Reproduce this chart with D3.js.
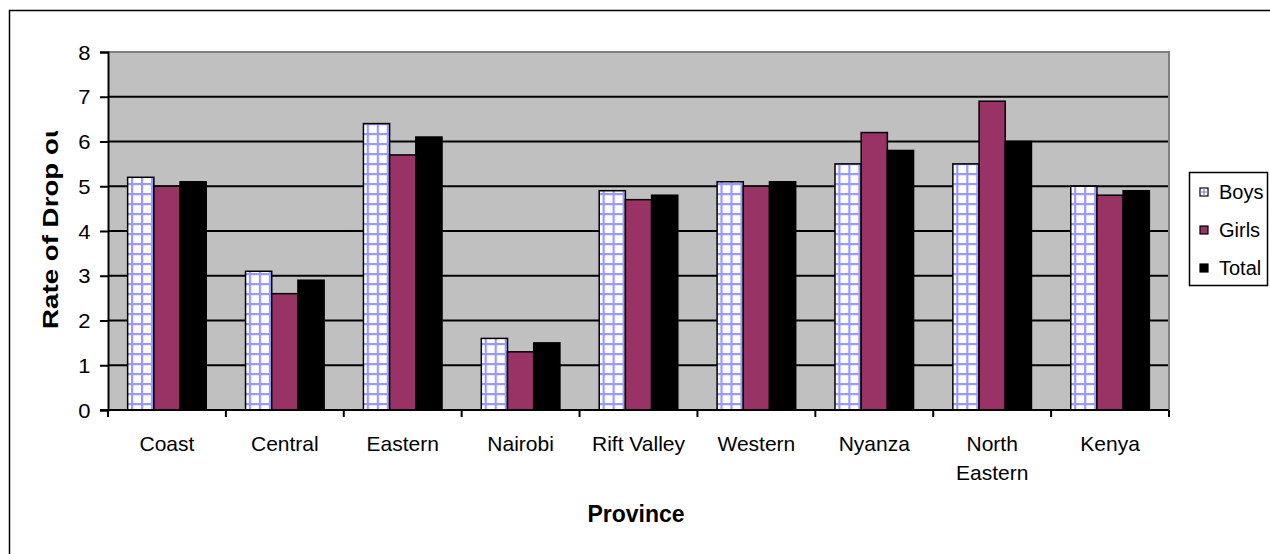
<!DOCTYPE html>
<html>
<head>
<meta charset="utf-8">
<script src="https://cdn.jsdelivr.net/npm/d3@7"></script>
<style>
  body { margin: 0; background: #fff; }
  svg { display: block; }
  text { font-family: "Liberation Sans", Arial, sans-serif; fill: #000; }
</style>
</head>
<body>
<div id="chart"></div>
<script>
const provinces = ["Coast", "Central", "Eastern", "Nairobi", "Rift Valley", "Western", "Nyanza", "North Eastern", "Kenya"];
const seriesNames = ["Boys", "Girls", "Total"];
const boys  = [5.2, 3.1, 6.4, 1.6, 4.9, 5.1, 5.5, 5.5, 5.0];
const girls = [5.0, 2.6, 5.7, 1.3, 4.7, 5.0, 6.2, 6.9, 4.8];
const total = [5.1, 2.9, 6.1, 1.5, 4.8, 5.1, 5.8, 6.0, 4.9];
const yTicks = [0, 1, 2, 3, 4, 5, 6, 7, 8];
const xTitle = "Province";
const yTitle = "Rate of Drop out";

const W = 1270, H = 554;
const plot = { left: 108, top: 52, right: 1169, bottom: 410 };

const svg = d3.select("#chart").append("svg")
    .attr("width", W)
    .attr("height", H);

const defs = svg.append("defs");

// boys fill: white with a light blue grid
const pat = defs.append("pattern")
    .attr("id", "boysGrid")
    .attr("patternUnits", "userSpaceOnUse")
    .attr("width", 10)
    .attr("height", 10);
pat.append("rect").attr("width", 10).attr("height", 10).attr("fill", "#fff");
pat.append("rect").attr("x", 3).attr("y", 0).attr("width", 2.2).attr("height", 10).attr("fill", "#9999ff");
pat.append("rect").attr("x", 0).attr("y", 3).attr("width", 10).attr("height", 2.2).attr("fill", "#9999ff");

defs.append("clipPath").attr("id", "yTitleClip")
    .append("rect").attr("x", 0).attr("y", 131).attr("width", 100).attr("height", 260);

const colors = { Boys: "url(#boysGrid)", Girls: "#993366", Total: "#000" };
const values = { Boys: boys, Girls: girls, Total: total };

// outer chart border (runs off the right/bottom edges)
svg.append("rect")
    .attr("x", 9.5).attr("y", 10.5)
    .attr("width", W + 20).attr("height", H + 20)
    .attr("fill", "#fff")
    .attr("stroke", "#000")
    .attr("stroke-width", 1.5);

const x0 = d3.scaleBand()
    .domain(provinces)
    .range([plot.left, plot.right])
    .padding(0);

const x1 = d3.scaleBand()
    .domain(seriesNames)
    .range([0, x0.bandwidth()])
    .paddingInner(0)
    .paddingOuter(0.75);

const y = d3.scaleLinear()
    .domain([0, 8])
    .range([plot.bottom, plot.top]);

// plot background
svg.append("rect")
    .attr("x", plot.left).attr("y", plot.top)
    .attr("width", plot.right - plot.left)
    .attr("height", plot.bottom - plot.top)
    .attr("fill", "#c0c0c0");

// gridlines
svg.append("g")
    .selectAll("line")
    .data(yTicks.filter(d => d > 0 && d < 8))
    .join("line")
    .attr("x1", plot.left).attr("x2", plot.right)
    .attr("y1", d => y(d)).attr("y2", d => y(d))
    .attr("stroke", "#000")
    .attr("stroke-width", 2);

// top and right plot edges in grey
svg.append("path")
    .attr("d", `M${plot.left},${y(8)}H${plot.right}V${plot.bottom}`)
    .attr("fill", "none")
    .attr("stroke", "#808080")
    .attr("stroke-width", 2);

// bars
const groups = svg.append("g")
    .selectAll("g")
    .data(provinces)
    .join("g")
    .attr("transform", d => `translate(${x0(d)},0)`);

groups.selectAll("rect")
    .data((p, i) => seriesNames.map(s => ({ key: s, value: values[s][i] })))
    .join("rect")
    .attr("x", d => x1(d.key))
    .attr("y", d => y(d.value))
    .attr("width", x1.bandwidth())
    .attr("height", d => y(0) - y(d.value))
    .attr("fill", d => colors[d.key])
    .attr("stroke", "#000")
    .attr("stroke-width", 1.5);

// y axis
const yAxis = svg.append("g")
    .attr("transform", `translate(${plot.left},0)`)
    .call(d3.axisLeft(y).tickValues(yTicks).tickSize(8).tickPadding(8).tickFormat(d3.format("d")));
yAxis.select(".domain").attr("stroke", "#000").attr("stroke-width", 2);
yAxis.selectAll(".tick line").attr("stroke", "#000").attr("stroke-width", 2);
yAxis.selectAll(".tick text")
    .style("font-size", "20px")
    .attr("font-family", null)
    .attr("dy", "0.36em")
    .attr("transform", "scale(1.1,1)");

// x axis with ticks at category boundaries
const xAxisG = svg.append("g")
    .attr("transform", `translate(0,${plot.bottom})`);
xAxisG.append("line")
    .attr("x1", plot.left - 8).attr("x2", plot.right)
    .attr("stroke", "#000").attr("stroke-width", 2);
xAxisG.selectAll("line.tk")
    .data(provinces.map(p => x0(p)).concat([plot.right]))
    .join("line")
    .attr("class", "tk")
    .attr("x1", d => d).attr("x2", d => d)
    .attr("y1", 0).attr("y2", 7)
    .attr("stroke", "#000").attr("stroke-width", 2);

const catLines = p => p === "North Eastern" ? ["North", "Eastern"] : [p];
xAxisG.selectAll("text.cat")
    .data(provinces)
    .join("text")
    .attr("class", "cat")
    .attr("text-anchor", "middle")
    .style("font-size", "21px")
    .each(function(p) {
        const t = d3.select(this);
        catLines(p).forEach((ln, i) => {
            t.append("tspan")
                .attr("x", x0(p) + x0.bandwidth() / 2)
                .attr("y", 41 + i * 29)
                .text(ln);
        });
    });

// axis titles
svg.append("text")
    .attr("x", 636)
    .attr("y", 522)
    .attr("text-anchor", "middle")
    .style("font-size", "23px")
    .style("font-weight", "bold")
    .text(xTitle);

svg.append("g")
    .attr("clip-path", "url(#yTitleClip)")
    .append("text")
    .attr("transform", "translate(58,329) rotate(-90) scale(1.26,1)")
    .attr("text-anchor", "start")
    .style("font-size", "22px")
    .style("font-weight", "bold")
    .text(yTitle);

// legend
const legend = svg.append("g");
legend.append("rect")
    .attr("x", 1189.5).attr("y", 172.5)
    .attr("width", 78).attr("height", 113)
    .attr("fill", "#fff")
    .attr("stroke", "#000")
    .attr("stroke-width", 1.5);

const legendY = d3.scalePoint()
    .domain(seriesNames)
    .range([192, 268]);

const items = legend.selectAll("g.item")
    .data(seriesNames)
    .join("g")
    .attr("class", "item")
    .attr("transform", d => `translate(1200,${legendY(d)})`);

items.append("rect")
    .attr("x", 0).attr("y", -4)
    .attr("width", 8).attr("height", 8)
    .attr("fill", d => d === "Boys" ? "#fff" : colors[d])
    .attr("stroke", "#000")
    .attr("stroke-width", 1.2);

items.filter(d => d === "Boys").append("path")
    .attr("d", "M4,-3.5V3.5M0.5,0H7.5")
    .attr("stroke", "#9999ff")
    .attr("stroke-width", 1.6);

items.append("text")
    .attr("x", 19)
    .attr("y", 7)
    .style("font-size", "20px")
    .text(d => d);
</script>
</body>
</html>
